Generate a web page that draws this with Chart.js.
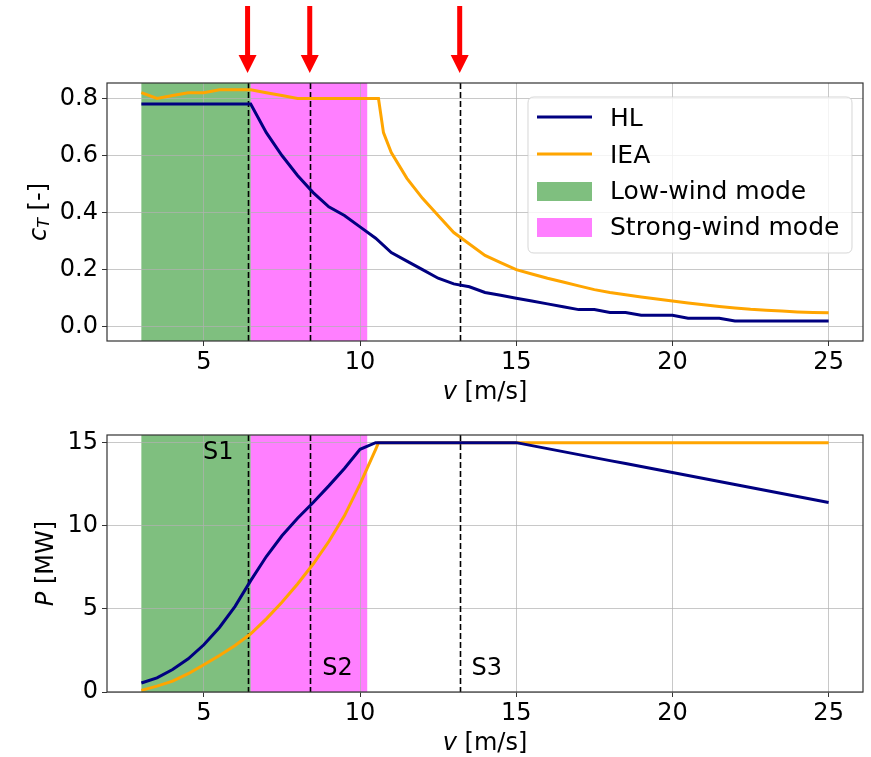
<!DOCTYPE html>
<html><head><meta charset="utf-8">
<script src="https://cdn.jsdelivr.net/npm/chart.js@4.4.0/dist/chart.umd.min.js"></script>
<style>
html,body{margin:0;padding:0;background:#fff;}
#wrap{position:relative;width:871px;height:757px;background:#fff;}
.box{position:absolute;left:0;width:871px;}
</style></head><body>
<div id="wrap">
  <div class="box" style="top:0;height:412px"><canvas id="c1" width="871" height="412"></canvas></div>
  <div class="box" style="top:412px;height:345px"><canvas id="c2" width="871" height="345"></canvas></div>
</div>
<script>
// ---------------- data ----------------
const windSpeed = [3,3.5,4,4.5,5,5.5,6,6.5,7,7.5,8,8.5,9,9.5,10,10.5,11,11.5,12,12.5,13,13.5,14,14.5,15,15.5,16,16.5,17,17.5,18,18.5,19,19.5,20,20.5,21,21.5,22,22.5,23,23.5,24,24.5,25];
const hlThrust = [0.78,0.78,0.78,0.78,0.78,0.78,0.78,0.78,0.68,0.60,0.53,0.47,0.42,0.39,0.35,0.31,0.26,0.23,0.20,0.17,0.15,0.14,0.12,0.11,0.10,0.09,0.08,0.07,0.06,0.06,0.05,0.05,0.04,0.04,0.04,0.03,0.03,0.03,0.02,0.02,0.02,0.02,0.02,0.02,0.02];
const hlPower = [0.54,0.85,1.35,2.0,2.84,3.88,5.15,6.7,8.15,9.4,10.45,11.4,12.4,13.45,14.6,15.0,15,15,15,15,15,15,15,15,15,14.82,14.64,14.46,14.28,14.1,13.92,13.74,13.56,13.38,13.2,13.02,12.84,12.66,12.48,12.3,12.12,11.94,11.76,11.58,11.4];
const ieaSpeed = [3,3.5,4,4.5,5,5.5,6,6.5,7,7.5,8,8.5,9,9.5,10,10.5,10.59,10.75,11,11.5,12,12.5,13,13.5,14,14.5,15,15.5,16,16.5,17,17.5,18,18.5,19,19.5,20,20.5,21,21.5,22,22.5,23,23.5,24,24.5,25];
const ieaThrust = [0.82,0.80,0.81,0.82,0.82,0.83,0.83,0.83,0.82,0.81,0.80,0.80,0.80,0.80,0.80,0.80,0.80,0.68,0.61,0.52,0.45,0.39,0.33,0.29,0.25,0.225,0.20,0.185,0.17,0.157,0.143,0.13,0.12,0.112,0.104,0.097,0.09,0.083,0.077,0.071,0.066,0.061,0.058,0.055,0.052,0.05,0.049];
const ieaPower = [0.1,0.35,0.65,1.1,1.64,2.2,2.8,3.5,4.4,5.4,6.5,7.7,9.05,10.6,12.5,14.6,15,15,15,15,15,15,15,15,15,15,15,15,15,15,15,15,15,15,15,15,15,15,15,15,15,15,15,15,15,15,15];
const xTicks = [5,10,15,20,25];
const ctTicks = [0,0.2,0.4,0.6,0.8];
const powerTicks = [0,5,10,15];
const lowWindSpan = [3.0, 6.5];
const strongWindSpan = [6.5, 10.23];
const stageSpeeds = [6.4, 8.39, 13.19];
const stageLabels = ['S1','S2','S3'];
const seriesNames = ['HL','IEA'];
const spanNames = ['Low-wind mode','Strong-wind mode'];

// ---------------- styles ----------------
const FONT = '"DejaVu Sans", "Liberation Sans", sans-serif';
const NAVY = '#000080', ORANGE = '#ffa500';
const GREEN = 'rgba(0,128,0,0.5)', MAGENTA = 'rgba(255,0,255,0.5)';
const TICK_PX = 24;

function pts(xs, ys){ return xs.map((x,i)=>({x:x, y:ys[i]})); }

function drawMixed(ctx, parts, cx, cy){
  let total = 0;
  parts.forEach(p => { ctx.font = `${p.style} ${p.size}px ${FONT}`; p.w = ctx.measureText(p.t).width; total += p.w; });
  let x = cx - total/2;
  ctx.textBaseline = 'middle'; ctx.textAlign = 'left'; ctx.fillStyle = '#000';
  parts.forEach(p => { ctx.font = `${p.style} ${p.size}px ${FONT}`; ctx.fillText(p.t, x, cy + (p.dy||0)); x += p.w; });
}

function makePlugin(kind){
  return {
    id: 'deco_' + kind,
    beforeDraw(chart){
      const {ctx, chartArea: ca, scales:{x}} = chart;
      ctx.save();
      ctx.fillStyle = '#fff'; ctx.fillRect(0,0,chart.width,chart.height);
      ctx.fillStyle = GREEN;
      const g0 = x.getPixelForValue(lowWindSpan[0]), g1 = x.getPixelForValue(lowWindSpan[1]);
      ctx.fillRect(g0, ca.top, g1-g0, ca.bottom-ca.top);
      ctx.fillStyle = MAGENTA;
      const m0 = x.getPixelForValue(strongWindSpan[0]), m1 = x.getPixelForValue(strongWindSpan[1]);
      ctx.fillRect(m0, ca.top, m1-m0, ca.bottom-ca.top);
      ctx.restore();
    },
    beforeDatasetsDraw(chart){
      const {ctx, chartArea: ca, scales:{x}} = chart;
      ctx.save();
      ctx.strokeStyle = '#000'; ctx.lineWidth = 1.6; ctx.setLineDash([6,3]);
      stageSpeeds.forEach(s => {
        const px = Math.round(x.getPixelForValue(s)) + 0.5;
        ctx.beginPath(); ctx.moveTo(px, ca.top); ctx.lineTo(px, ca.bottom); ctx.stroke();
      });
      ctx.restore();
    },
    afterDatasetsDraw(chart){
      const {ctx, chartArea: ca, scales:{x,y}} = chart;
      ctx.save();
      if (kind === 'power'){
        ctx.font = `24px ${FONT}`; ctx.fillStyle = '#000'; ctx.textBaseline = 'middle';
        ctx.textAlign = 'right';
        ctx.fillText(stageLabels[0], x.getPixelForValue(stageSpeeds[0]-0.45), y.getPixelForValue(14.4));
        ctx.textAlign = 'left';
        ctx.fillText(stageLabels[1], x.getPixelForValue(stageSpeeds[1]+0.4), y.getPixelForValue(1.4));
        ctx.fillText(stageLabels[2], x.getPixelForValue(stageSpeeds[2]+0.38), y.getPixelForValue(1.4));
      }
      ctx.strokeStyle = '#333'; ctx.lineWidth = 1.2; ctx.setLineDash([]);
      ctx.strokeRect(ca.left, ca.top, ca.right-ca.left, ca.bottom-ca.top);
      ctx.restore();
    },
    afterDraw(chart){
      const {ctx, chartArea: ca, scales:{x}} = chart;
      ctx.save();
      const cxT = (ca.left + ca.right)/2;
      drawMixed(ctx, [{t:'v', style:'italic', size:24},{t:' [m/s]', style:'normal', size:24}], cxT, ca.bottom + 52);
      ctx.save();
      if (kind === 'ct'){
        ctx.translate(40, (ca.top+ca.bottom)/2);
        ctx.rotate(-Math.PI/2);
        drawMixed(ctx, [{t:'c', style:'italic', size:24},{t:'T', style:'italic', size:16, dy:5},{t:' [-]', style:'normal', size:24}], 0, 0);
      } else {
        ctx.translate(47, (ca.top+ca.bottom)/2);
        ctx.rotate(-Math.PI/2);
        drawMixed(ctx, [{t:'P', style:'italic', size:24},{t:' [MW]', style:'normal', size:24}], 0, 0);
      }
      ctx.restore();
      if (kind === 'ct'){
        ctx.fillStyle = '#ff0000';
        stageSpeeds.forEach(s => {
          const px = x.getPixelForValue(s);
          ctx.fillRect(px-2.5, 6, 5, 51);
          ctx.beginPath(); ctx.moveTo(px-9, 55); ctx.lineTo(px+9, 55); ctx.lineTo(px, 73); ctx.closePath(); ctx.fill();
        });
        const L = ca.right - 335, T = ca.top + 14, W = 324, H = 156, r = 6;
        ctx.beginPath();
        ctx.moveTo(L+r, T); ctx.lineTo(L+W-r, T); ctx.quadraticCurveTo(L+W, T, L+W, T+r);
        ctx.lineTo(L+W, T+H-r); ctx.quadraticCurveTo(L+W, T+H, L+W-r, T+H);
        ctx.lineTo(L+r, T+H); ctx.quadraticCurveTo(L, T+H, L, T+H-r);
        ctx.lineTo(L, T+r); ctx.quadraticCurveTo(L, T, L+r, T); ctx.closePath();
        ctx.fillStyle = 'rgba(255,255,255,0.8)'; ctx.fill();
        ctx.strokeStyle = 'rgba(204,204,204,0.8)'; ctx.lineWidth = 1; ctx.stroke();
        const hx0 = L + 9, hx1 = L + 64, tx = L + 82;
        const rows = [T+22, T+59, T+95, T+131];
        ctx.lineWidth = 3;
        ctx.strokeStyle = NAVY; ctx.beginPath(); ctx.moveTo(hx0, rows[0]-2); ctx.lineTo(hx1, rows[0]-2); ctx.stroke();
        ctx.strokeStyle = ORANGE; ctx.beginPath(); ctx.moveTo(hx0, rows[1]-2); ctx.lineTo(hx1, rows[1]-2); ctx.stroke();
        ctx.fillStyle = GREEN; ctx.fillRect(hx0, rows[2]-10, hx1-hx0, 19);
        ctx.fillStyle = MAGENTA; ctx.fillRect(hx0, rows[3]-10, hx1-hx0, 19);
        ctx.fillStyle = '#000'; ctx.font = `25px ${FONT}`; ctx.textBaseline = 'middle'; ctx.textAlign = 'left';
        const names = seriesNames.concat(spanNames);
        names.forEach((n,i) => ctx.fillText(n, tx, rows[i]));
      }
      ctx.restore();
    }
  };
}

function baseScales(yMin, yMax, yTicks, yFmt, xH){
  return {
    x: {
      type: 'linear', min: 1.9, max: 26.1,
      afterBuildTicks: s => { s.ticks = xTicks.map(v => ({value: v})); },
      afterFit: s => { s.height = xH; },
      grid: { color: 'rgba(176,176,176,0.7)', lineWidth: 1, tickColor: '#333', tickLength: 5, tickWidth: 1 },
      border: { display: false },
      ticks: { color: '#000', font: { family: FONT, size: TICK_PX }, padding: 2, maxRotation: 0, autoSkip: false }
    },
    y: {
      type: 'linear', min: yMin, max: yMax,
      afterBuildTicks: s => { s.ticks = yTicks.map(v => ({value: v})); },
      afterFit: s => { s.width = 107; },
      grid: { color: 'rgba(176,176,176,0.7)', lineWidth: 1, tickColor: '#333', tickLength: 5, tickWidth: 1 },
      border: { display: false },
      ticks: { color: '#000', font: { family: FONT, size: TICK_PX }, padding: 4, autoSkip: false, callback: yFmt }
    }
  };
}

function lineDs(label, data, color){
  return { label, data, borderColor: color, backgroundColor: color, borderWidth: 3, pointRadius: 0, tension: 0, fill: false };
}

new Chart(document.getElementById('c1'), {
  type: 'line',
  data: { datasets: [ lineDs(seriesNames[0], pts(windSpeed, hlThrust), NAVY), lineDs(seriesNames[1], pts(ieaSpeed, ieaThrust), ORANGE) ] },
  options: {
    responsive: false, animation: false,
    layout: { padding: { left: 0, right: 8, top: 83, bottom: 0 } },
    plugins: { legend: { display: false }, title: { display: false }, tooltip: { enabled: false } },
    scales: baseScales(-0.05, 0.854, ctTicks, v => Number(v).toFixed(1), 71)
  },
  plugins: [makePlugin('ct')]
});

new Chart(document.getElementById('c2'), {
  type: 'line',
  data: { datasets: [ lineDs(seriesNames[0], pts(windSpeed, hlPower), NAVY), lineDs(seriesNames[1], pts(ieaSpeed, ieaPower), ORANGE) ] },
  options: {
    responsive: false, animation: false,
    layout: { padding: { left: 0, right: 8, top: 23, bottom: 0 } },
    plugins: { legend: { display: false }, title: { display: false }, tooltip: { enabled: false } },
    scales: baseScales(0, 15.46, powerTicks, v => String(v), 65)
  },
  plugins: [makePlugin('power')]
});
</script>
</body></html>
